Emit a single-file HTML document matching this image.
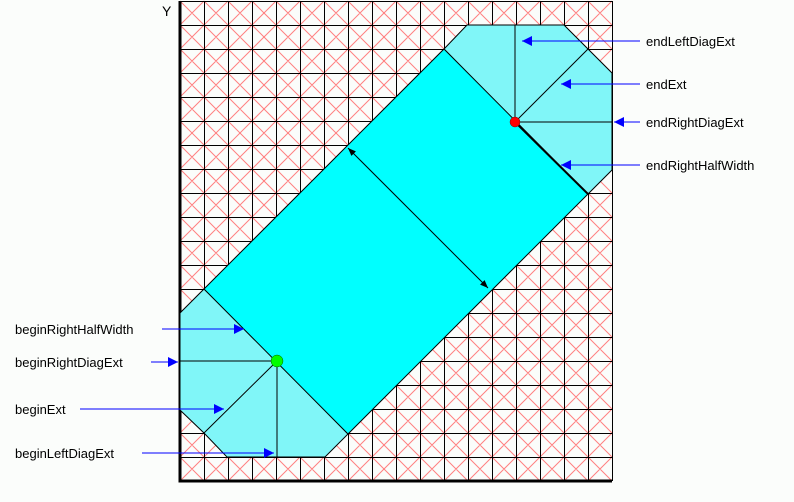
<!DOCTYPE html>
<html><head><meta charset="utf-8"><style>
html,body{margin:0;padding:0;background:#fbfdfb;}
svg{display:block;}
text{font-family:"Liberation Sans",sans-serif;font-size:13px;fill:#000;}
</style></head><body>
<svg id="c" width="794" height="502" viewBox="0 0 794 502">
<defs>
<marker id="bh" viewBox="0 0 10 10" refX="10" refY="5" markerWidth="13" markerHeight="10" orient="auto-start-reverse" markerUnits="userSpaceOnUse"><path d="M0,0 L10,5 L0,10 Z" fill="#0000ff"/></marker>
<marker id="kh" viewBox="0 0 10 10" refX="10" refY="5" markerWidth="10" markerHeight="8" orient="auto-start-reverse" markerUnits="userSpaceOnUse"><path d="M0,1 L10,5 L0,9 Z" fill="#000"/></marker>
</defs>
<g id="grid"></g>
<g id="shape"></g>
<g id="labels"></g>
</svg>
<script>
const NS="http://www.w3.org/2000/svg";
const cols=18, rows=20, cell=24, x0=180, y0=1;
const endCap=[[444,49],[467,25],[564,25],[612,73],[612,170],[588,194],[515,122]];
const band=[[204,289],[444,49],[588,194],[348,434]];
const beginCap=[[204,289],[180,313],[180,410],[204,433],[227,457],[325,457],[348,434],[277,361]];
const endCenter=[515,122], beginCenter=[277,361];
const rightLabels=["endLeftDiagExt","endExt","endRightDiagExt","endRightHalfWidth"];
const rightY=[41,84,122,165], rightTip=[522,561,614,561];
const leftLabels=["beginRightHalfWidth","beginRightDiagExt","beginExt","beginLeftDiagExt"];
const leftY=[329,362,409,453], leftStart=[162,151,80,142], leftTip=[244,178,224,274];

function el(tag,attrs,parent){const e=document.createElementNS(NS,tag);for(const k in attrs)e.setAttribute(k,attrs[k]);parent.appendChild(e);return e;}
const g=document.getElementById('grid'), s=document.getElementById('shape'), L=document.getElementById('labels');
const W=cols*cell,H=rows*cell;
let d="",dots="";
for(let i=0;i<cols;i++)for(let j=0;j<rows;j++){const x=x0+i*cell,y=y0+j*cell;d+=`M${x} ${y}L${x+cell} ${y+cell}M${x+cell} ${y}L${x} ${y+cell}`;}
const diag=el('path',{d:d,stroke:'#ff8080','stroke-width':1,fill:'none'},g);


let d2="";
for(let i=0;i<=cols;i++){const x=x0+i*cell+0.5;d2+=`M${x} ${y0}V${y0+H}`;}
for(let j=0;j<=rows;j++){const y=y0+j*cell+0.5;d2+=`M${x0} ${y}H${x0+W}`;}
const gl=el('path',{d:d2,stroke:'#000','stroke-width':1,fill:'none'},g);


const ax=el('path',{d:`M${x0} ${y0}V${y0+H}H${x0+W}`,stroke:'#000','stroke-width':3,fill:'none'},g);


const yl=el('text',{x:162,y:16,style:'font-size:14px'},g);yl.textContent="Y";


const pts=a=>a.map(p=>p.join(',')).join(' ');
const ec=el('polygon',{points:pts(endCap),fill:'#80f6f8',stroke:'#000','stroke-width':1},s);


const bc=el('polygon',{points:pts(beginCap),fill:'#80f6f8',stroke:'#000','stroke-width':1},s);


const bd=el('polygon',{points:pts(band),fill:'#00ffff',stroke:'#000','stroke-width':1},s);


const [ex,ey]=endCenter,[bx,by]=beginCenter;
const inner=`M${ex} ${ey}V25M${ex} ${ey}L588 49M${ex} ${ey}H612M${bx} ${by}H180M${bx} ${by}L204 433M${bx} ${by}V457`;
const il=el('path',{d:inner,stroke:'#000','stroke-width':1,fill:'none'},s);


const th=el('path',{d:`M${ex} ${ey}L588 194`,stroke:'#000','stroke-width':2},s);


const wa=el('line',{x1:348,y1:148,x2:488,y2:288,stroke:'#000','stroke-width':1,'marker-start':'url(#kh)','marker-end':'url(#kh)'},s);


const rc=el('circle',{cx:ex,cy:ey,r:5,fill:'#ff0000',stroke:'#800000','stroke-width':0.5},s);


const gc=el('circle',{cx:bx,cy:by,r:6,fill:'#00ff00',stroke:'#006000','stroke-width':0.5},s);


rightLabels.forEach((t,i)=>{
 const ln=el('line',{x1:640,y1:rightY[i],x2:rightTip[i],y2:rightY[i],stroke:'#0000ff','stroke-width':1,'marker-end':'url(#bh)'},L);
 
 
 const tx=el('text',{x:646,y:rightY[i]+5},L);tx.textContent=t;
 
 
});
leftLabels.forEach((t,i)=>{
 const ln=el('line',{x1:leftStart[i],y1:leftY[i],x2:leftTip[i],y2:leftY[i],stroke:'#0000ff','stroke-width':1,'marker-end':'url(#bh)'},L);
 
 
 const tx=el('text',{x:15,y:leftY[i]+5},L);tx.textContent=t;
 
 
});
</script>
</body></html>
